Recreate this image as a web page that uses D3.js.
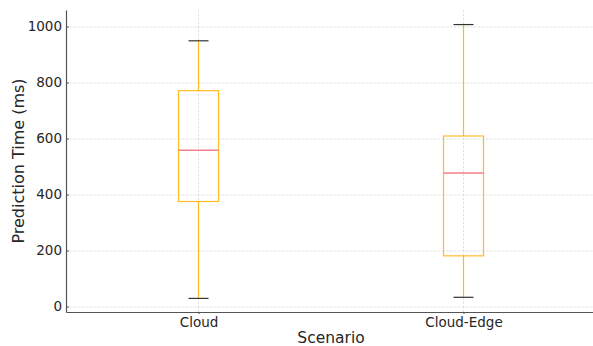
<!DOCTYPE html>
<html>
<head>
<meta charset="utf-8">
<script src="https://cdn.jsdelivr.net/npm/d3@7"></script>
<style>
  body { margin: 0; background: #fff; }
  svg text { font-family: "DejaVu Sans", sans-serif; fill: #262626; }
</style>
</head>
<body>
<div id="chart"></div>
<script>
// box plot stats
var scenarios = ["Cloud", "Cloud-Edge"];
var whiskerLow = [29, 33];
var q1 = [375, 181];
var median = [558, 477];
var q3 = [771, 609];
var whiskerHigh = [949, 1007];
var yTicks = [0, 200, 400, 600, 800, 1000];

var W = 593, H = 346;
var margin = {left: 66, top: 10, bottom: 34};

var svg = d3.select("#chart").append("svg")
    .attr("width", W).attr("height", H);

// positions 1 and 2, matplotlib-style limits 0.5..2.5
var x = d3.scaleLinear().domain([0.5, 2.5]).range([margin.left, margin.left + 530]);
var y = d3.scaleLinear().domain([-19.5, 1059]).range([H - margin.bottom, margin.top]);

var grid = svg.append("g").attr("class", "grid");
grid.selectAll("line.h").data(yTicks).enter().append("line")
    .attr("x1", margin.left).attr("x2", W)
    .attr("y1", function (d) { return y(d) + 0.5; })
    .attr("y2", function (d) { return y(d) + 0.5; })
    .attr("stroke", "#d9d9d9").attr("stroke-dasharray", "2.5,1.5").attr("stroke-width", 0.8);
grid.selectAll("line.v").data(scenarios).enter().append("line")
    .attr("x1", function (d, i) { return x(i + 1); })
    .attr("x2", function (d, i) { return x(i + 1); })
    .attr("y1", y.range()[0]).attr("y2", y.range()[1])
    .attr("stroke", "#d9d9d9").attr("stroke-dasharray", "2.5,1.5").attr("stroke-width", 0.8);

var boxes = svg.selectAll("g.box").data(scenarios).enter().append("g").attr("class", "box");
var bw = 40, cw = 20;

boxes.append("line")
    .attr("x1", function (d, i) { return x(i + 1); })
    .attr("x2", function (d, i) { return x(i + 1); })
    .attr("y1", function (d, i) { return y(whiskerLow[i]); })
    .attr("y2", function (d, i) { return y(q1[i]); })
    .attr("stroke", "#ffb000").attr("stroke-opacity", 0.85).attr("stroke-width", 1.2);
boxes.append("line")
    .attr("x1", function (d, i) { return x(i + 1); })
    .attr("x2", function (d, i) { return x(i + 1); })
    .attr("y1", function (d, i) { return y(q3[i]); })
    .attr("y2", function (d, i) { return y(whiskerHigh[i]); })
    .attr("stroke", "#ffb000").attr("stroke-opacity", 0.85).attr("stroke-width", 1.2);

boxes.append("rect")
    .attr("x", function (d, i) { return x(i + 1) - bw / 2; })
    .attr("width", bw)
    .attr("y", function (d, i) { return y(q3[i]); })
    .attr("height", function (d, i) { return y(q1[i]) - y(q3[i]); })
    .attr("fill", "none").attr("stroke", "#ffb000").attr("stroke-opacity", 0.85).attr("stroke-width", 1.2);

boxes.append("line")
    .attr("x1", function (d, i) { return x(i + 1) - bw / 2; })
    .attr("x2", function (d, i) { return x(i + 1) + bw / 2; })
    .attr("y1", function (d, i) { return y(median[i]); })
    .attr("y2", function (d, i) { return y(median[i]); })
    .attr("stroke", "#f4808f").attr("stroke-width", 1.5);

[whiskerLow, whiskerHigh].forEach(function (arr) {
  boxes.append("line")
      .attr("x1", function (d, i) { return x(i + 1) - cw / 2; })
      .attr("x2", function (d, i) { return x(i + 1) + cw / 2; })
      .attr("y1", function (d, i) { return y(arr[i]); })
      .attr("y2", function (d, i) { return y(arr[i]); })
      .attr("stroke", "#333").attr("stroke-width", 1.2);
});

// axes
var yAxis = svg.append("g")
    .attr("transform", "translate(" + margin.left + ",0)")
    .call(d3.axisLeft(y).tickValues(yTicks).tickFormat(d3.format("d"))
      .tickSizeInner(-3).tickSizeOuter(0).tickPadding(4));
yAxis.select(".domain").attr("stroke", "#555").attr("stroke-width", 1.2);
yAxis.selectAll(".tick line").attr("stroke", "#555");
yAxis.selectAll("text").attr("font-size", 13.5);

var xAxis = svg.append("g")
    .attr("transform", "translate(0," + (H - margin.bottom) + ")")
    .call(d3.axisBottom(x).tickValues([1, 2]).tickFormat(function (d) { return scenarios[d - 1]; })
      .tickSizeInner(2).tickSizeOuter(0).tickPadding(3));
xAxis.select(".domain").attr("stroke", "#555").attr("stroke-width", 1.2);
xAxis.selectAll(".tick line").attr("stroke", "#555");
xAxis.selectAll("text").attr("font-size", 13.5);

svg.append("text")
    .attr("x", (margin.left + 596) / 2).attr("y", 343)
    .attr("text-anchor", "middle").attr("font-size", 15.5)
    .text("Scenario");
svg.append("text")
    .attr("transform", "translate(24," + (y.range()[0] + y.range()[1]) / 2 + ") rotate(-90)")
    .attr("text-anchor", "middle").attr("font-size", 16)
    .text("Prediction Time (ms)");
</script>
</body>
</html>
